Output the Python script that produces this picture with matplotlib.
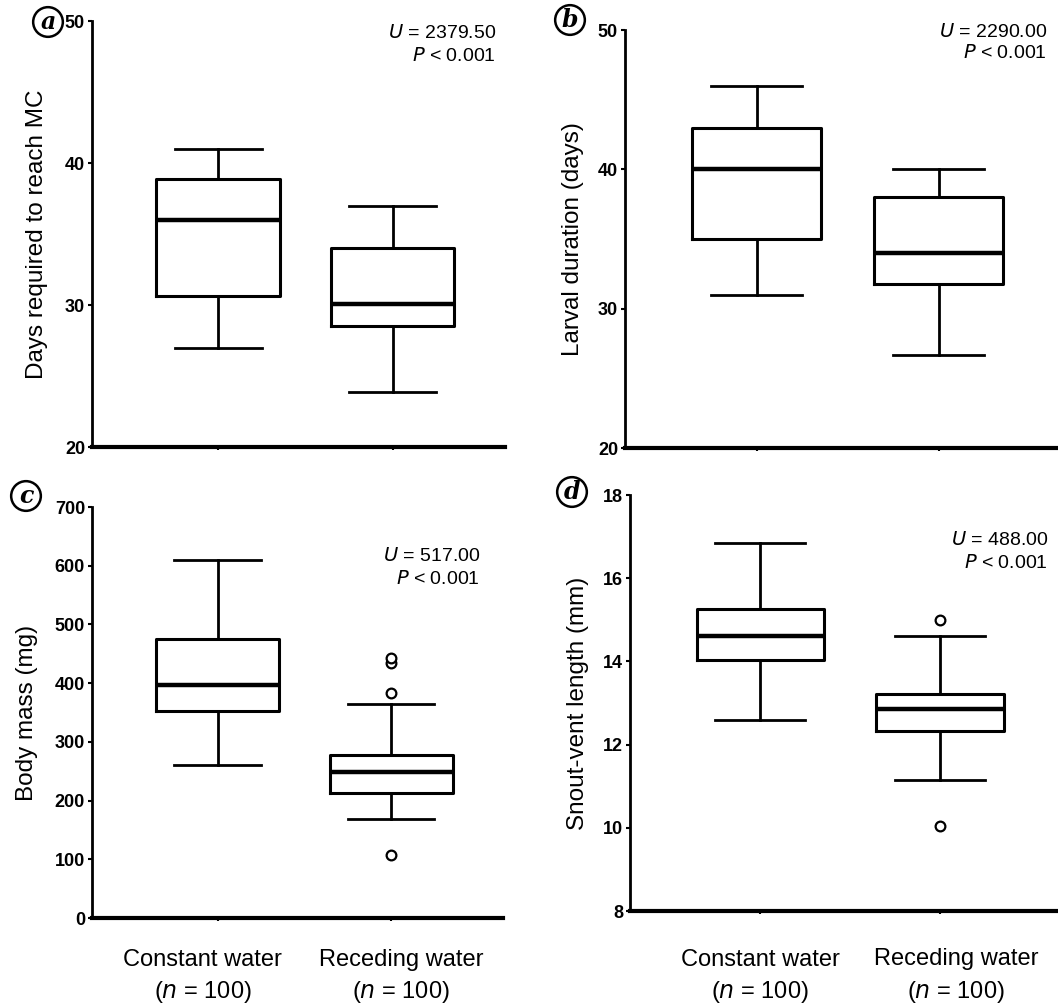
import matplotlib.pyplot as plt
import matplotlib.transforms as mtransforms
from matplotlib import font_manager

# Box statistics (whisker low, Q1, median, Q3, whisker high, outliers)
groups = ['Constant water\n($n$ = 100)', 'Receding water\n($n$ = 100)']

days_mc_constant = dict(whislo=27, q1=30.6, med=36, q3=38.9, whishi=41, fliers=[])
days_mc_receding = dict(whislo=23.9, q1=28.5, med=30.1, q3=34, whishi=37, fliers=[])

larval_constant = dict(whislo=31, q1=35, med=40, q3=43, whishi=46, fliers=[])
larval_receding = dict(whislo=26.7, q1=31.8, med=34, q3=38, whishi=40, fliers=[])

mass_constant = dict(whislo=260, q1=352, med=397, q3=476, whishi=610, fliers=[])
mass_receding = dict(whislo=169, q1=213, med=249, q3=278, whishi=364,
                     fliers=[107, 383, 434, 442])

svl_constant = dict(whislo=12.6, q1=14.03, med=14.6, q3=15.25, whishi=16.85, fliers=[])
svl_receding = dict(whislo=11.15, q1=12.33, med=12.85, q3=13.22, whishi=14.6,
                    fliers=[10.05, 15.0])

u_text = ['2379.50', '2290.00', '517.00', '488.00']
y_labels = ['Days required to reach MC', 'Larval duration (days)',
            'Body mass (mg)', 'Snout-vent length (mm)']
y_ticks = [[20, 30, 40, 50], [20, 30, 40, 50],
           [0, 100, 200, 300, 400, 500, 600, 700], [8, 10, 12, 14, 16, 18]]
panel_letters = ['a', 'b', 'c', 'd']

plt.rcParams['font.family'] = ['Liberation Sans', 'DejaVu Sans']
names = {f.name for f in font_manager.fontManager.ttflist}
tick_font = 'Liberation Sans Narrow' if 'Liberation Sans Narrow' in names else 'Liberation Sans'

fig = plt.figure(figsize=(10.58, 10.05), dpi=100)
W, H = 1058, 1005

def px_axes(left, top, right, bottom):
    return fig.add_axes([left / W, 1 - bottom / H, (right - left) / W, (bottom - top) / H])

axes = [px_axes(92, 21, 505, 447), px_axes(625, 30, 1056, 448),
        px_axes(92, 507, 503, 918), px_axes(630, 495, 1056, 911)]

all_stats = [(days_mc_constant, days_mc_receding), (larval_constant, larval_receding),
             (mass_constant, mass_receding), (svl_constant, svl_receding)]

letter_pos = [(48, 22), (570, 20), (26, 496), (572, 492)]
u_pos = [(496, 33, 56), (1047, 32, 53), (480, 556, 579), (1048, 540, 563)]
x_pads = [0, 0, 20, 25]
y_pads = [12, 10, 12, 10]
label_shift = [None, None, (-15, 10), (0, 16)]  # px nudge of the category labels

for i, ax in enumerate(axes):
    stats = all_stats[i]
    ax.bxp(list(stats), positions=[1, 2], widths=0.71, capwidths=0.5,
           showfliers=True,
           boxprops=dict(color='black', linewidth=2.2),
           medianprops=dict(color='black', linewidth=3.2),
           whiskerprops=dict(color='black', linewidth=2),
           capprops=dict(color='black', linewidth=2),
           flierprops=dict(marker='o', markersize=7, markerfacecolor='white',
                           markeredgecolor='black', markeredgewidth=1.6))
    yt = y_ticks[i]
    ax.set_ylim(yt[0], yt[-1])
    ax.set_xlim(0.275, 2.645)
    ax.set_yticks(yt)
    ax.set_yticklabels([str(t) for t in yt], fontfamily=tick_font,
                       fontweight='bold', fontsize=13)
    ax.tick_params(axis='y', length=3, width=1.5, pad=2)
    ax.tick_params(axis='x', length=2, width=1.5)
    ax.spines['top'].set_visible(False)
    ax.spines['right'].set_visible(False)
    ax.spines['left'].set_linewidth(2)
    ax.spines['bottom'].set_linewidth(3)
    ax.set_ylabel(y_labels[i], fontsize=17.5, labelpad=y_pads[i])
    ax.set_xticks([1, 2])
    if i >= 2:
        ax.set_xticklabels(groups, fontsize=17, linespacing=1.45)
        ax.tick_params(axis='x', pad=x_pads[i])
        for lab, dx in zip(ax.get_xticklabels(), label_shift[i]):
            lab.set_transform(lab.get_transform() +
                              mtransforms.ScaledTranslation(dx / 100, 0, fig.dpi_scale_trans))
    else:
        ax.set_xticklabels(['', ''])

    lx, ly = letter_pos[i]
    fig.text(lx / W, 1 - ly / H, panel_letters[i], fontsize=17, fontweight='bold',
             fontstyle='italic', family='DejaVu Serif', ha='center', va='center',
             bbox=dict(boxstyle='circle,pad=0.12', facecolor='white',
                       edgecolor='black', linewidth=1.8))
    rx, y1, y2 = u_pos[i]
    fig.text(rx / W, 1 - y1 / H, '$U$ = ' + u_text[i], fontsize=14,
             family=tick_font, ha='right', va='center')
    fig.text(rx / W, 1 - y2 / H, '$P$ < 0.001', fontsize=14,
             family=tick_font, ha='right', va='center')

fig.savefig('out.png', dpi=100, facecolor='white')
